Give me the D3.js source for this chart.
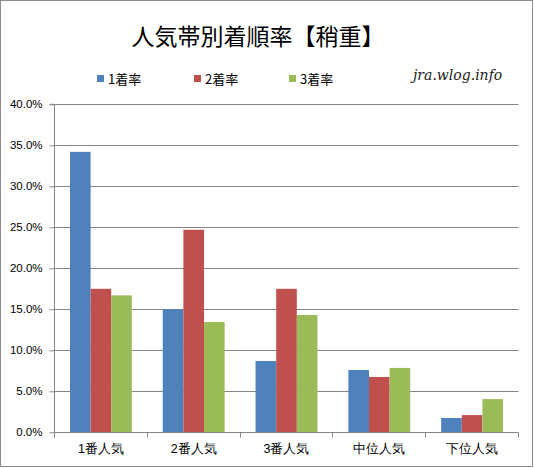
<!DOCTYPE html>
<html><head><meta charset="utf-8">
<script src="https://cdn.jsdelivr.net/npm/d3@7"></script>
<style>
html,body{margin:0;padding:0;background:#fff;}
svg{display:block;font-family:"Noto Sans CJK JP","Noto Sans",sans-serif;}
</style></head>
<body><svg id="c" width="535" height="468"></svg>
<script>
const categories = ["1番人気","2番人気","3番人気","中位人気","下位人気"];
const seriesNames = ["1着率","2着率","3着率"];
const win   = [34.2, 15.0, 8.7, 7.6, 1.75];
const place2 = [17.5, 24.7, 17.5, 6.75, 2.1];
const place3 = [16.7, 13.45, 14.3, 7.85, 4.05];
const yTicks = [0,5,10,15,20,25,30,35,40];
const colors = ["#4F81BD","#C0504D","#9BBB59"];
const seriesValues = [win, place2, place3];

(function(){
const svg = d3.select("#c");
svg.append("rect").attr("x",0.5).attr("y",0.5).attr("width",532).attr("height",466)
  .attr("fill","#fff").attr("stroke","#8c8c8c");

const pl=54.5, pr=518.5, pt=104.3, pb=432.3;
const x = d3.scaleBand().domain(categories).range([pl,pr]);
const bw = x.bandwidth(), w = bw/4.5;
const x1 = d3.scaleBand().domain(seriesNames).range([0.75*w, 3.75*w]);
const y = d3.scaleLinear().domain([0,40]).range([pb,pt]);

svg.append("g").selectAll("line").data(yTicks.filter(d=>d>0)).join("line")
  .attr("x1",pl).attr("x2",pr).attr("y1",d=>Math.round(y(d))+0.5).attr("y2",d=>Math.round(y(d))+0.5)
  .attr("stroke","#868686").attr("stroke-width",1);

seriesNames.forEach((s,i)=>{
  svg.append("g").selectAll("rect").data(categories).join("rect")
    .attr("x",c=>x(c)+x1(s)).attr("width",x1.bandwidth())
    .attr("y",(c,j)=>y(seriesValues[i][j])).attr("height",(c,j)=>pb-y(seriesValues[i][j]))
    .attr("fill",colors[i]);
});

const ya = svg.append("g").attr("transform",`translate(${Math.floor(pl)+0.5},0)`)
  .call(d3.axisLeft(y).tickValues(yTicks).tickSize(5).tickPadding(7).tickFormat(d=>d.toFixed(1)+"%"));
ya.select(".domain").attr("stroke","#868686").attr("d",`M-5,${pt}H0V${pb}`);
ya.selectAll(".tick line").attr("stroke","#868686");
ya.selectAll(".tick text").attr("font-size","11.5px").attr("fill","#000").attr("font-family","'Liberation Sans',Arial,sans-serif");

const xa = svg.append("g").attr("transform",`translate(0,${Math.round(pb)+0.5})`)
  .call(d3.axisBottom(x).tickSize(0).tickPadding(12));
xa.select(".domain").attr("stroke","#868686").attr("d",`M${pl},0H${pr}`);
xa.selectAll(".tick text").attr("font-size","12.5px").attr("fill","#000");
const bounds = categories.map(c=>x(c)).concat([pr]);
xa.selectAll(".sep").data(bounds).join("line").attr("class","sep")
  .attr("x1",d=>Math.floor(d)+0.5).attr("x2",d=>Math.floor(d)+0.5).attr("y1",0).attr("y2",5)
  .attr("stroke","#868686");

svg.append("text").attr("x",258).attr("y",45).attr("text-anchor","middle")
  .attr("font-size","23px").attr("fill","#000").text("人気帯別着順率【稍重】");

const lx=[97,194,289];
seriesNames.forEach((s,i)=>{
  svg.append("rect").attr("x",lx[i]).attr("y",75).attr("width",7).attr("height",7).attr("fill",colors[i]);
  svg.append("text").attr("x",lx[i]+11).attr("y",83.5).attr("font-size","13px").attr("fill","#000").text(s);
});

svg.append("text").attr("x",413).attr("y",80).attr("font-size","14px").attr("font-style","italic")
  .attr("font-family","'DejaVu Serif',serif").attr("fill","#222").text("jra.wlog.info");
})();
</script></body></html>
